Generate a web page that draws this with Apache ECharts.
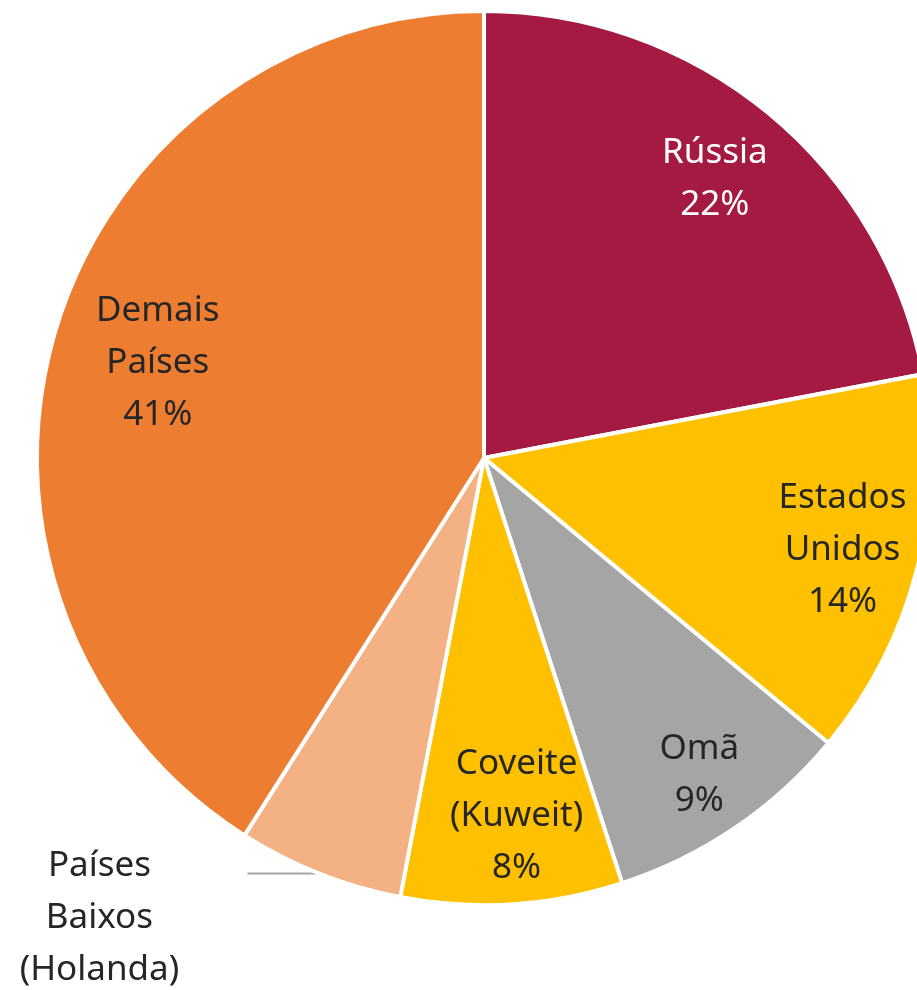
<!DOCTYPE html>
<html>
<head>
<meta charset="utf-8">
<script src="https://cdn.jsdelivr.net/npm/echarts@6/dist/echarts.min.js"></script>
<style>
  html, body { margin: 0; padding: 0; background: #ffffff; }
  #chart { width: 917px; height: 990px; }
</style>
</head>
<body>
<div id="chart"></div>
<script>
// Origem das importações (participação %)
const countries = ['Rússia', 'Estados\nUnidos', 'Omã', 'Coveite\n(Kuweit)', 'Países\nBaixos\n(Holanda)', 'Demais\nPaíses'];
const shares = [22, 14, 9, 8, 6, 41];

// Presentation settings
const sliceColors = ['#A51A43', '#FFC000', '#A5A5A5', '#FFC000', '#F4B183', '#ED7D31'];
const labelColors = ['#ffffff', '#262626', '#262626', '#262626', '#262626', '#262626'];
const CX = 484, CY = 458, R = 447;
// radial distance of each inside label (fraction of radius); null = outside label
const labelRadius = [0.81, 0.828, 0.857, 0.805, null, 0.76];
// small angular nudge (degrees) per label
const labelTurn = [0, 0, 0, -1.6, 0, 0];

const total = shares.reduce((a, b) => a + b, 0);
const midAngles = [];
let acc = 0;
shares.forEach(v => {
  midAngles.push(((acc + v / 2) / total) * Math.PI * 2);
  acc += v;
});

const chart = echarts.init(document.getElementById('chart'), null, { renderer: 'canvas' });

chart.setOption({
  animation: false,
  backgroundColor: '#ffffff',
  series: [{
    type: 'pie',
    center: [CX, CY],
    radius: [0, R],
    startAngle: 90,
    clockwise: true,
    avoidLabelOverlap: false,
    percentPrecision: 0,
    itemStyle: { borderColor: '#ffffff', borderWidth: 4 },
    label: {
      show: true,
      position: 'inside',
      formatter: '{b}\n{d}%',
      fontFamily: '"Noto Sans", sans-serif',
      fontSize: 35,
      lineHeight: 52,
      color: '#262626'
    },
    labelLine: { show: false },
    labelLayout: function (p) {
      const i = p.dataIndex;
      const a = midAngles[i] + labelTurn[i] * Math.PI / 180;
      if (labelRadius[i] != null) {
        const r = labelRadius[i] * R;
        return {
          x: CX + r * Math.sin(a),
          y: CY - r * Math.cos(a),
          align: 'center',
          verticalAlign: 'middle'
        };
      }
      const ex = CX + R * Math.sin(a);
      const ey = CY - R * Math.cos(a);
      const endX = ex - 72;
      return {
        x: endX - 148,
        y: ey - 34,
        align: 'center',
        verticalAlign: 'top',
        labelLinePoints: [[ex, ey], [ex, ey], [endX, ey]]
      };
    },
    data: countries.map((name, i) => {
      const item = {
        name: name,
        value: shares[i],
        itemStyle: { color: sliceColors[i] },
        label: { color: labelColors[i] }
      };
      if (labelRadius[i] == null) {
        item.label.position = 'outside';
        item.label.align = 'center';
        item.labelLine = { show: true, length: 0, length2: 72, lineStyle: { color: '#A6A6A6', width: 2 } };
      }
      return item;
    })
  }]
});
</script>
</body>
</html>
